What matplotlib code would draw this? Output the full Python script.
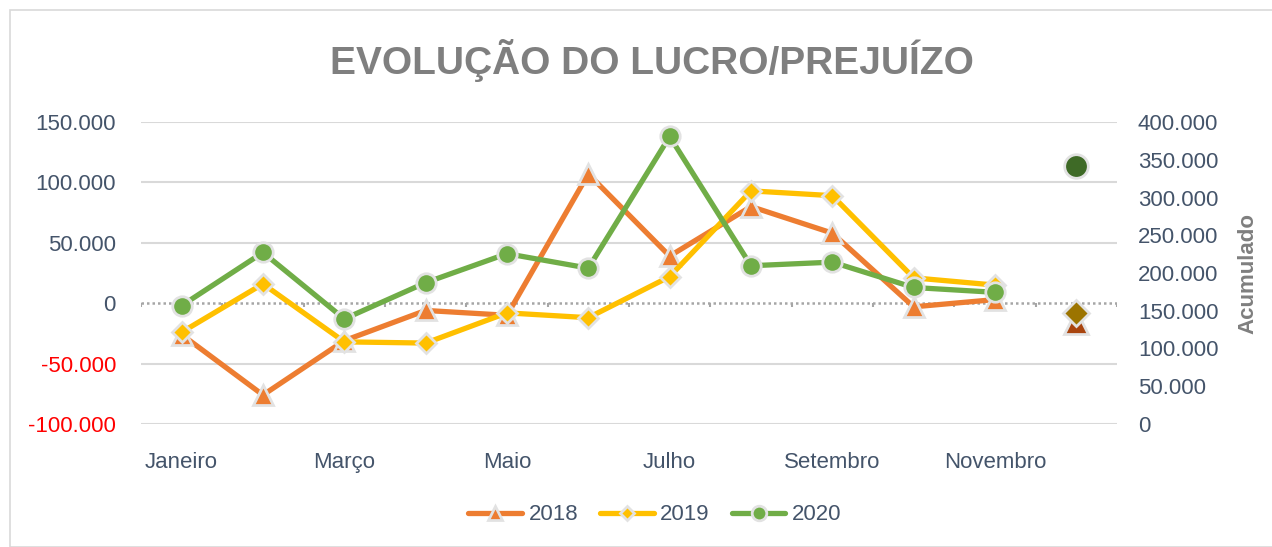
import numpy as np
import matplotlib
matplotlib.use("Agg")
import matplotlib.pyplot as plt
from matplotlib.ticker import FuncFormatter
from matplotlib.patches import Rectangle

months = ["Janeiro", "Fevereiro", "Março", "Abril", "Maio", "Junho", "Julho",
          "Agosto", "Setembro", "Outubro", "Novembro", "Acumulado"]
shown_labels = ["Janeiro", "", "Março", "", "Maio", "", "Julho", "", "Setembro", "", "Novembro", ""]

lucro_2018 = [-26000, -76000, -31000, -6000, -10000, 107000, 39000, 80000, 58000, -3000, 3000]
lucro_2019 = [-24000, 16000, -32000, -33000, -8000, -12000, 22000, 93000, 89000, 21000, 15000]
lucro_2020 = [-2000, 42000, -13000, 17000, 41000, 29000, 138000, 31000, 34000, 13000, 9000]
acumulado = {"2018": 135000, "2019": 147000, "2020": 342000}

left_ticks = [-100000, -50000, 0, 50000, 100000, 150000]
right_ticks = [0, 50000, 100000, 150000, 200000, 250000, 300000, 350000, 400000]

plt.rcParams["font.family"] = ["Liberation Sans", "DejaVu Sans"]
SLATE = "#44546A"
EDGE = "#E2E2E2"


def br_fmt(v, pos=None):
    return f"{v:,.0f}".replace(",", ".")


fig = plt.figure(figsize=(12.72, 5.47), dpi=100)
ax = fig.add_axes([141 / 1272, 1 - 424 / 547, (1117 - 141) / 1272, (424 - 122) / 547])

x = np.arange(len(lucro_2018))
series = [
    ("2018", lucro_2018, "#ED7D31", "^", 14, "#A9450F"),
    ("2019", lucro_2019, "#FFC000", "D", 10, "#9C7400"),
    ("2020", lucro_2020, "#70AD47", "o", 14, "#3E6A26"),
]
handles = []
for name, vals, col, mk, ms, dark in series:
    ln, = ax.plot(x, vals, color=col, lw=3.8, marker=mk, ms=ms, mfc=col, mec=EDGE, mew=2,
                  solid_capstyle="round", zorder=3, label=name)
    handles.append(ln)

ax.set_xlim(-0.5, len(months) - 0.5)
ax.set_ylim(left_ticks[0], left_ticks[-1])
ax.set_yticks(left_ticks)
ax.yaxis.set_major_formatter(FuncFormatter(br_fmt))
ax.set_xticks(np.arange(len(months)))
ax.set_xticklabels(shown_labels)
ax.tick_params(axis="both", length=0, labelsize=16, colors=SLATE)
ax.tick_params(axis="y", pad=18)
ax.tick_params(axis="x", pad=20)
for lbl, v in zip(ax.get_yticklabels(), left_ticks):
    if v < 0:
        lbl.set_color("#FF0000")

for v in left_ticks:
    if v != 0:
        ax.axhline(v, color="#D9D9D9", lw=1.5, zorder=0)
ax.axhline(0, color="#A6A6A6", lw=1.8, ls=(0, (1, 1.2)), zorder=1)
edges = np.arange(len(months) + 1) - 0.5
ax.vlines(edges, -3000, 0, color="#A6A6A6", lw=1.5, zorder=1)
for s in ax.spines.values():
    s.set_visible(False)

ax2 = ax.twinx()
ax2.set_ylim(right_ticks[0], right_ticks[-1])
ax2.set_yticks(right_ticks)
ax2.yaxis.set_major_formatter(FuncFormatter(br_fmt))
ax2.tick_params(axis="y", length=0, labelsize=16, colors=SLATE, pad=15)
for s in ax2.spines.values():
    s.set_visible(False)
acc_x = len(months) - 1
for name, vals, col, mk, ms, dark in series:
    ax2.plot([acc_x], [acumulado[name]], marker=mk, ms=ms + 3, mfc=dark, mec=EDGE, mew=2,
             ls="none", zorder=4)
ax2.set_ylabel("Acumulado", fontsize=16, fontweight="bold", color="#7F7F7F", labelpad=14)

fig.text(652 / 1272, 1 - 60 / 547, "EVOLUÇÃO DO LUCRO/PREJUÍZO", ha="center", va="center",
         fontsize=28, fontweight="bold", color="#7F7F7F")

fig.legend(handles=handles, loc="center", bbox_to_anchor=(655 / 1272, 1 - 515 / 547), ncol=3,
           frameon=False, fontsize=16, labelcolor=SLATE, handlelength=2.4, columnspacing=1.0,
           handletextpad=0.3, markerscale=0.75)

fig.patches.append(Rectangle((10 / 1272, 0), 1.2, 1 - 10 / 547, transform=fig.transFigure,
                             fill=False, ec="#D9D9D9", lw=1.2))

fig.savefig("out.png", dpi=100)
